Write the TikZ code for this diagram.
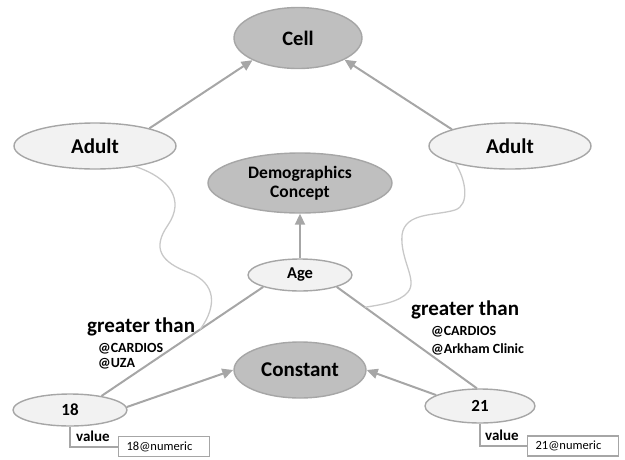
\documentclass[tikz,border=0pt]{standalone}
\usepackage{fontspec}
\setmainfont{Carlito}
\usetikzlibrary{shapes.geometric,arrows.meta}
\definecolor{edgegray}{HTML}{A6A6A6}
\definecolor{darkfill}{HTML}{BFBFBF}
\definecolor{lightfill}{HTML}{F2F2F2}
\definecolor{curvegray}{HTML}{C8C8C8}
\newcommand{\fs}[1]{\fontsize{#1}{1.2\dimexpr#1pt\relax}\selectfont}
\begin{document}
\begin{tikzpicture}[x=1pt,y=-1pt,
  blob/.style={ellipse, draw=edgegray, line width=1.4pt, inner sep=0pt, font=\bfseries, align=center},
  classnode/.style={blob, fill=darkfill},
  inst/.style={blob, fill=lightfill},
  link/.style={draw=edgegray, line width=2pt},
  isa/.style={link, -{Triangle[length=11pt,width=10pt]}},
  anno/.style={draw=curvegray, line width=1.3pt},
  lbl/.style={inner sep=0pt, anchor=base west, font=\bfseries},
  valbox/.style={draw=edgegray, line width=1.2pt, anchor=west, minimum height=20pt,
    text width=75pt, inner xsep=8pt, inner ysep=0pt, align=left, font=\fs{12.5}}
]
\useasboundingbox (0,0) rectangle (625,459);

% concepts
\node[classnode, minimum width=128pt, minimum height=61pt, font=\bfseries\fs{20.5}] (cell) at (298,38) {Cell};
\node[classnode, minimum width=184pt, minimum height=60pt, font=\bfseries\fs{17.5}] (demo) at (300,183) {Demographics\\[-2pt]Concept};
\node[classnode, minimum width=132pt, minimum height=56pt, font=\bfseries\fs{21}] (const) at (300,370) {Constant};

% instances
\node[inst, minimum width=162pt, minimum height=46pt, font=\bfseries\fs{21}] (adultL) at (95,146) {Adult};
\node[inst, minimum width=162pt, minimum height=46pt, font=\bfseries\fs{21}] (adultR) at (510,146) {Adult};
\node[inst, minimum width=104pt, minimum height=32pt, font=\bfseries\fs{16.5}] (age) at (300,275) {Age};
\node[inst, minimum width=114pt, minimum height=32pt, font=\bfseries\fs{17}] (n18) at (70,410) {18};
\node[inst, minimum width=110pt, minimum height=34pt, font=\bfseries\fs{17}] (n21) at (480,406) {21};

% literal values
\node[valbox] (box18) at (118,446.5) {18@numeric};
\node[valbox] (box21) at (527,446) {21@numeric};

% subclass arrows
\draw[isa] (adultL.18) -- (cell.206);
\draw[isa] (adultR.164) -- (cell.335);
\draw[isa] (age.north) -- (demo.south);
\draw[isa] (n18.3) -- (const.180);
\draw[isa] (n21.166) -- (const.0);

% comparison edges
\draw[link] (age.198) -- coordinate[pos=0.39] (gtLeft) (n18.24);
\draw[link] (age.342) -- coordinate[pos=0.2] (gtRight) (n21.100);

% value links
\draw[link] (n18.south) |- (box18.west);
\draw[link] (n21.south) |- (box21.west);
\node[lbl, font=\bfseries\fs{15}] (val18) at (76,441) {value};
\node[lbl, font=\bfseries\fs{15}] (val21) at (485,440) {value};

% annotation curves from the Adult nodes to the comparisons
\draw[anno] (adultL.-27) .. controls (170,178) and (185,200) .. (168,225)
  .. controls (152,248) and (160,262) .. (190,273)
  .. controls (215,283) and (218,305) .. (gtLeft);
\draw[anno] (adultR.198) .. controls (466,180) and (470,205) .. (455,210)
  .. controls (435,216) and (405,212) .. (402,235)
  .. controls (400,260) and (418,280) .. (408,292)
  .. controls (400,302) and (380,305) .. (gtRight);

% comparison labels
\node[lbl, font=\bfseries\fs{21}] (gtL) at (87,332) {greater than};
\node[lbl, font=\bfseries\fs{14}] (srcL1) at (98,352) {@CARDIOS};
\node[lbl, font=\bfseries\fs{14}] (srcL2) at (98,367) {@UZA};
\node[lbl, font=\bfseries\fs{21}] (gtR) at (411,315) {greater than};
\node[lbl, font=\bfseries\fs{14}] (srcR1) at (431,335) {@CARDIOS};
\node[lbl, font=\bfseries\fs{14}] (srcR2) at (431,353) {@Arkham Clinic};
\end{tikzpicture}
\end{document}
